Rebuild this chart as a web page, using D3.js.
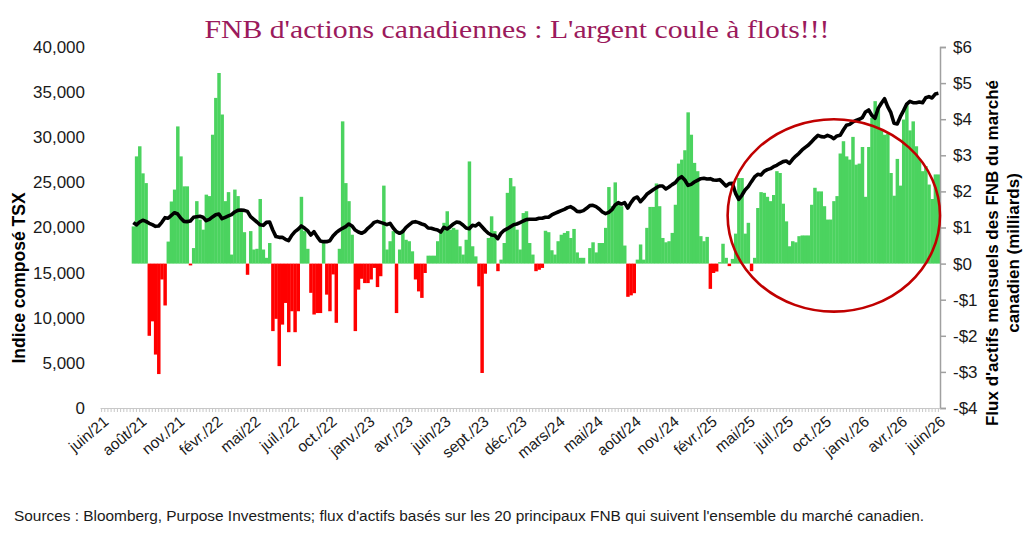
<!DOCTYPE html>
<html>
<head>
<meta charset="utf-8">
<script src="https://cdn.jsdelivr.net/npm/d3@7"></script>
<style>
  body { margin: 0; background: #fff; }
  svg { display: block; font-family: "Liberation Sans", Arial, sans-serif; }
</style>
</head>
<body>
<div id="viz"></div>
<script>
// weekly categories, juin/21 -> juin/26 (first weeks have no data)
let flows = [
  null, null, null, null, null, null, null, null, null, null,
  1.03, 2.97, 3.25, 2.5, 2.23, -2.0, -1.6, -2.52, -3.06, -0.44,
  -1.16, 0.61, 1.72, 2.05, 3.8, 2.97, 2.14, 2.14, -0.05, 0.43,
  1.73, 1.22, 0.94, 1.91, 1.87, 3.57, 4.59, 5.28, 4.13, 1.73,
  1.98, 0.25, 2.05, 1.87, 1.5, 0.87, -0.31, 0.9, 0.39, 0.41,
  1.79, 0.39, 0.16, 0.57, -1.87, -1.53, -2.84, -1.69, -1.09, -1.9,
  -1.32, -1.9, -1.32, 1.85, 0.9, 0.41, -0.81, -1.41, -1.37, -1.37,
  0.57, -0.86, -1.32, -0.3, -1.64, 0.41, 3.94, 2.23, 1.73, 0.8,
  -1.87, -0.72, -0.42, -0.54, -0.54, -0.44, -0.12, -0.65, -0.35, 2.16,
  0.39, 0.62, 0.9, -1.37, 0.39, 0.94, 0.66, 0.62, 0.34, -0.44,
  -0.77, -0.95, -0.26, 0.22, 0.22, 0.22, 0.62, 0.9, 1.13, 1.45,
  0.94, 0.99, 0.94, 0.48, 0.25, 0.66, 2.83, 0.48, 0.2, -0.63,
  -3.03, -0.28, 0.71, 1.31, 0.9, -0.21, 0.11, 0.57, 1.96, 2.37,
  2.14, 0.94, 0.39, 1.4, 1.45, 0.57, 0.25, -0.21, -0.17, -0.12,
  0.91, 0.87, 0.37, 0.25, 0.62, 0.8, 0.85, 0.9, 0.71, 0.96,
  0.31, 0.16, 0.16, 0, 0.43, 0.59, 0.31, 0.57, 0.57, 0.99,
  2.12, 1.59, 2.25, 1.63, 1.59, 0.5, -0.92, -0.88, -0.82, 0.11,
  0.53, 0.11, 0.99, 1.57, 1.57, 2.22, 1.59, 0.71, 0.59, 0.62,
  0.85, 1.63, 2.77, 2.88, 3.14, 4.19, 3.57, 2.79, 2.56, 0.76,
  0.62, 0.74, -0.7, -0.26, -0.22, 0.04, 0.55, 0.16, -0.07, 0.13,
  0.83, 2.37, 2.37, 0.83, 1.13, -0.21, 0.16, 1.54, 1.98, 1.96,
  1.85, 1.73, 1.9, 2.56, 2.51, 1.66, 1.17, 0.48, 0.62, 0.59,
  0.76, 0.78, 0.78, 0.78, 1.63, 2.1, 2.0, 2.0, 1.59, 1.22,
  1.22, 1.73, 1.87, 3.05, 3.39, 2.97, 2.88, 3.51, 2.74, 2.77,
  3.23, 1.85, 3.23, 4.04, 4.5, 4.28, 3.71, 3.57, 3.6, 2.51,
  1.88, 2.9, 2.16, 3.99, 4.45, 3.69, 3.94, 3.25, 2.9, 2.56,
  2.7, 2.19, 1.79, 2.47, 2.47
];

let tsx = [
  null, null, null, null, null, null, null, null, null, null,
  20540, 20300, 20610, 20800, 20680, 20460, 20310, 20130, 20170, 20570,
  21090, 21020, 21350, 21640, 21500, 21020, 20680, 20650, 20720, 21130,
  21200, 21240, 21130, 20760, 20900, 21170, 21420, 21500, 20980, 21130,
  21280, 21420, 21720, 21900, 21940, 21900, 21790, 21200, 20900, 20610,
  20300, 20240, 20570, 20610, 19720, 18990, 18910, 18910, 18690, 18540,
  19130, 19540, 19800, 20170, 19940, 19650, 19170, 19540, 18990, 18510,
  18430, 18430, 18540, 19060, 19430, 19690, 19910, 20090, 20390, 20170,
  19720, 19500, 19360, 19540, 19910, 20200, 20570, 20680, 20570, 20460,
  20310, 20460, 19940, 19540, 19360, 19540, 19980, 20280, 20570, 20650,
  20540, 20390, 20280, 19950, 19910, 19800, 19720, 19500, 20020, 19840,
  20090, 20390, 20610, 20540, 20280, 19950, 19870, 20240, 20170, 20460,
  20090, 19690, 19360, 19170, 19130, 18760, 19360, 19690, 19870, 20090,
  20310, 20390, 20540, 20720, 20870, 20910, 20910, 20910, 21020, 21020,
  21130, 21130, 21390, 21570, 21720, 21870, 22010, 22200, 22310, 22090,
  21790, 21760, 21870, 22130, 22420, 22460, 22310, 22050, 21720, 21540,
  21680, 21980, 22490, 22750, 22600, 22750, 22160, 22750, 23230, 23380,
  22860, 23230, 23680, 23940, 24190, 24410, 24600, 24600, 24270, 24490,
  24750, 24970, 25410, 25630, 25260, 24670, 24780, 25040, 25230, 25410,
  25450, 25370, 25410, 25260, 25230, 25300, 24970, 24600, 24860, 24890,
  23790, 23120, 23570, 24160, 24530, 25080, 25600, 25890, 25820, 26220,
  26410, 26520, 26740, 26890, 27110, 27300, 27370, 27110, 27550, 27920,
  28220, 28590, 28880, 29140, 29510, 29880, 30210, 30070, 30030, 30210,
  30070, 29840, 30140, 30210, 30800, 31320, 31430, 31690, 31870, 31990,
  32170, 32800, 33020, 32430, 32100, 33200, 33760, 34270, 33390, 32720,
  31540, 31470, 32280, 32950, 33680, 33980, 33830, 33830, 33910, 33830,
  34380, 34500, 34350, 34790, 34870
];

// one label every 12 weeks
let tickLabels = ["juin/21","août/21","nov./21","févr./22","mai/22","juil./22","oct./22",
  "janv./23","avr./23","juin/23","sept./23","déc./23","mars/24","mai/24","août/24",
  "nov./24","févr./25","mai/25","juil./25","oct./25","janv./26","avr./26","juin/26"];
let tickEvery = 12;

let leftTicks = [0, 5000, 10000, 15000, 20000, 25000, 30000, 35000, 40000];
let rightTicks = [-4, -3, -2, -1, 0, 1, 2, 3, 4, 5, 6];

// circled zone: weeks 198..264, flows -1.33 .. 4.0
let zone = { from: 198, to: 264, low: -1.33, high: 4.0 };

let title = "FNB d'actions canadiennes : L'argent coule à flots!!!";
let source = "Sources : Bloomberg, Purpose Investments; flux d'actifs basés sur les 20 principaux FNB qui suivent l'ensemble du marché canadien.";

let w = 1024;
let h = 538;
let plotLeft = 100, plotRight = 940, plotTop = 47, plotBottom = 408;

let viz = d3.select("#viz")
  .append("svg")
    .attr("width", w)
    .attr("height", h);

let xScale = d3.scaleBand().domain(d3.range(flows.length)).range([plotLeft, plotRight]).padding(0);
let bw = xScale.bandwidth();
let yLeft = d3.scaleLinear().domain([0, 40000]).range([plotBottom, plotTop]);
let yRight = d3.scaleLinear().domain([-4, 6]).range([plotBottom, plotTop]);

// bars
let barData = flows.map(function(v, i){ return {i: i, v: v}; }).filter(function(d){ return d.v != null; });
viz.append("g").selectAll("rect").data(barData).enter()
  .append("rect")
    .attr("x", function(d){ return xScale(d.i); })
    .attr("width", bw + 0.3)
    .attr("y", function(d){ return yRight(Math.max(0, d.v)); })
    .attr("height", function(d){ return Math.abs(yRight(d.v) - yRight(0)); })
    .attr("fill", function(d){ return d.v >= 0 ? "#4bd35f" : "#ff0000"; });

// TSX line
let lineData = tsx.map(function(v, i){ return {i: i, v: v}; }).filter(function(d){ return d.v != null; });
let lineMaker = d3.line()
  .x(function(d){ return xScale(d.i) + bw / 2; })
  .y(function(d){ return yLeft(d.v); });
viz.append("path")
  .datum(lineData)
  .attr("d", lineMaker)
  .attr("fill", "none")
  .attr("stroke", "#000")
  .attr("stroke-width", 3.6)
  .attr("stroke-linejoin", "round");

// left axis (labels only)
let leftAxis = viz.append("g")
  .attr("transform", "translate(" + plotLeft + ",0)")
  .call(d3.axisLeft(yLeft).tickValues(leftTicks).tickFormat(d3.format(",")).tickSize(0).tickPadding(15));
leftAxis.select(".domain").remove();
leftAxis.selectAll("text").attr("font-size", 17).attr("fill", "#1a1a1a").attr("font-family", "Liberation Sans, Arial, sans-serif");

// right axis
let rightAxis = viz.append("g")
  .attr("transform", "translate(" + plotRight + ",0)")
  .call(d3.axisRight(yRight).tickValues(rightTicks)
    .tickFormat(function(v){ return v < 0 ? "-$" + (-v) : "$" + v; })
    .tickSize(6).tickPadding(7));
rightAxis.selectAll("line, .domain").attr("stroke", "#a0a0a0").attr("stroke-width", 1.5);
rightAxis.selectAll("text").attr("font-size", 17).attr("fill", "#1a1a1a").attr("font-family", "Liberation Sans, Arial, sans-serif");

// bottom axis: a tick for every week, label every 12
let bottomAxis = viz.append("g")
  .attr("transform", "translate(0," + plotBottom + ")")
  .call(d3.axisBottom(xScale).tickValues(d3.range(flows.length)).tickFormat("").tickSize(4).tickSizeOuter(0));
bottomAxis.selectAll("line, .domain").attr("stroke", "#c8c8c8");

viz.append("g").selectAll("text").data(tickLabels).enter()
  .append("text")
    .text(function(d){ return d; })
    .attr("transform", function(d, k){
      let x = xScale(k * tickEvery) + bw / 2 + 1;
      return "translate(" + x + "," + (plotBottom + 7) + ") rotate(-40)";
    })
    .attr("text-anchor", "end")
    .attr("dy", "0.7em")
    .attr("font-size", 15.5)
    .attr("fill", "#1a1a1a");

// circle annotation
viz.append("ellipse")
  .attr("cx", (xScale(zone.from) + xScale(zone.to) + bw) / 2)
  .attr("cy", (yRight(zone.low) + yRight(zone.high)) / 2)
  .attr("rx", (xScale(zone.to) + bw - xScale(zone.from)) / 2)
  .attr("ry", (yRight(zone.low) - yRight(zone.high)) / 2)
  .attr("fill", "none")
  .attr("stroke", "#c00000")
  .attr("stroke-width", 2.6);

// title
viz.append("text")
  .text(title)
  .attr("x", 517)
  .attr("y", 38)
  .attr("text-anchor", "middle")
  .attr("font-family", "Liberation Serif, serif")
  .attr("font-size", 25)
  .attr("fill", "#9b1a5c")
  .attr("textLength", 625)
  .attr("lengthAdjust", "spacingAndGlyphs");

// axis titles
viz.append("text")
  .text("Indice composé TSX")
  .attr("transform", "translate(25,278) rotate(-90)")
  .attr("text-anchor", "middle")
  .attr("font-weight", "bold")
  .attr("font-size", 17.5)
  .attr("fill", "#000");

let rt = viz.append("text")
  .attr("transform", "translate(998,253) rotate(-90)")
  .attr("text-anchor", "middle")
  .attr("font-weight", "bold")
  .attr("font-size", 17)
  .attr("fill", "#000");
rt.append("tspan").attr("x", 0).text("Flux d'actifs mensuels des FNB du marché");
rt.append("tspan").attr("x", 0).attr("dy", 21).text("canadien (milliards)");

// source
viz.append("text")
  .text(source)
  .attr("x", 14)
  .attr("y", 521)
  .attr("font-size", 15.4)
  .attr("fill", "#1a1a1a");
</script>
</body>
</html>
